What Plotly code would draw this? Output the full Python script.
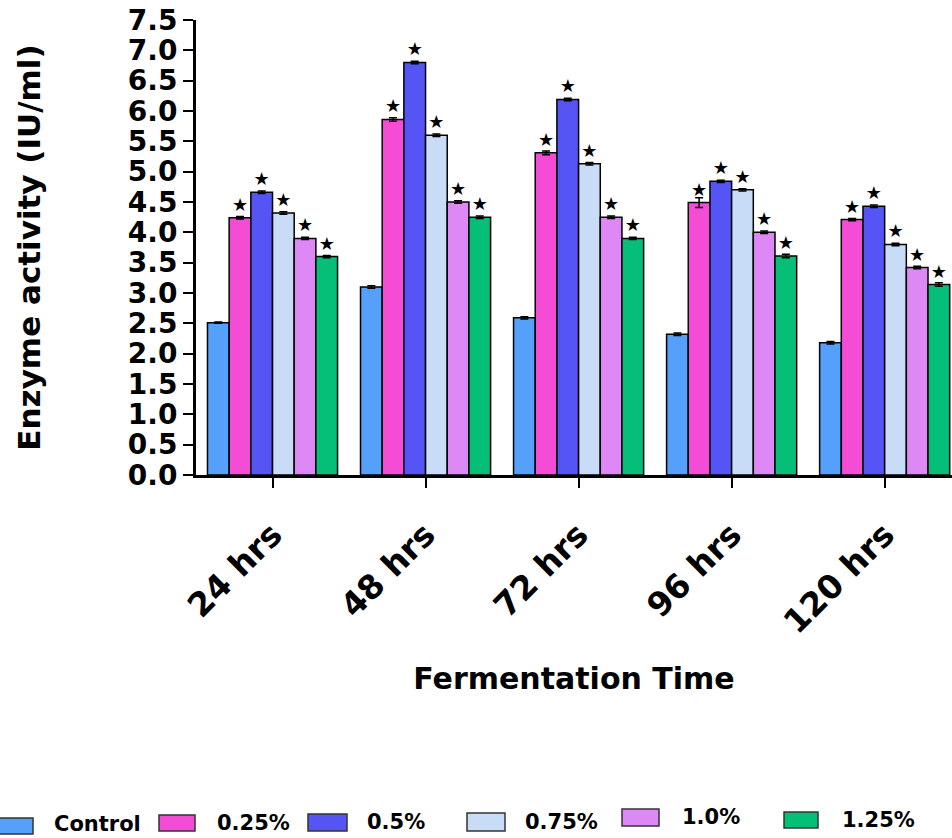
import plotly.graph_objects as go

# ---------------- data ----------------
categories = ["24 hrs", "48 hrs", "72 hrs", "96 hrs", "120 hrs"]
series_names = ["Control", "0.25%", "0.5%", "0.75%", "1.0%", "1.25%"]

control = [2.51, 3.10, 2.59, 2.32, 2.18]
conc_025 = [4.24, 5.86, 5.31, 4.49, 4.21]
conc_05 = [4.66, 6.80, 6.19, 4.84, 4.43]
conc_075 = [4.32, 5.60, 5.13, 4.70, 3.80]
conc_10 = [3.90, 4.50, 4.25, 4.00, 3.42]
conc_125 = [3.60, 4.25, 3.90, 3.61, 3.14]

err_control = [0.01, 0.02, 0.02, 0.02, 0.02]
err_025 = [0.02, 0.03, 0.03, 0.08, 0.02]
err_05 = [0.02, 0.02, 0.02, 0.02, 0.02]
err_075 = [0.02, 0.02, 0.02, 0.02, 0.02]
err_10 = [0.02, 0.02, 0.02, 0.02, 0.02]
err_125 = [0.02, 0.02, 0.02, 0.03, 0.03]

# significance marks ("" = none)
sig_control = ["", "", "", "", ""]
sig_treat = ["★", "★", "★", "★", "★"]

y_tickvals = [0.0, 0.5, 1.0, 1.5, 2.0, 2.5, 3.0, 3.5, 4.0, 4.5, 5.0, 5.5, 6.0, 6.5, 7.0, 7.5]
y_ticktext = ["0.0", "0.5", "1.0", "1.5", "2.0", "2.5", "3.0", "3.5", "4.0", "4.5",
              "5.0", "5.5", "6.0", "6.5", "7.0", "7.5"]

series_values = [control, conc_025, conc_05, conc_075, conc_10, conc_125]
series_errors = [err_control, err_025, err_05, err_075, err_10, err_125]
series_sig = [sig_control, sig_treat, sig_treat, sig_treat, sig_treat, sig_treat]
colors = ["#55A0FA", "#F54CD5", "#5555F5", "#C8DCF8", "#DD88F5", "#05BE78"]

FONT = "DejaVu Sans"

# ---------------- figure ----------------
W, H = 952, 838
ML, MR, MT, MB = 196, 0, 20, 363

fig = go.Figure()
for name, vals, errs, sig, col in zip(series_names, series_values, series_errors, series_sig, colors):
    fig.add_trace(go.Bar(
        name=name,
        x=categories,
        y=vals,
        marker=dict(color=col, line=dict(color="black", width=1.5)),
        error_y=dict(type="data", array=errs, visible=True, color="black",
                     thickness=1.5, width=4),
        text=sig,
        textposition="outside",
        textfont=dict(family=FONT, size=18, color="black"),
        cliponaxis=False,
        showlegend=False,
    ))

# manual legend (boxes + labels) in pixel positions converted to paper coords
pw = W - ML - MR
ph = H - MT - MB


def px_x(p):
    return (p - ML) / pw


def px_y(p):
    return (H - MB - p) / ph


legend_boxes = [(-3, 33, 818, 834), (159, 195, 815, 831), (308, 347, 814, 831),
                (467, 505, 813, 831), (622, 659, 809, 826), (784, 818, 812, 828)]
legend_text_x = [52, 215, 365, 523, 680, 840]
legend_text_y = [824, 823, 822, 822, 817, 820]

shapes = []
annotations = []
for (x0, x1, y0, y1), tx, ty, name, col in zip(legend_boxes, legend_text_x, legend_text_y,
                                               series_names, colors):
    shapes.append(dict(type="rect", xref="paper", yref="paper",
                       x0=px_x(x0), x1=px_x(x1), y0=px_y(y1), y1=px_y(y0),
                       fillcolor=col, line=dict(color="#333333", width=1.5)))
    annotations.append(dict(text=name, xref="paper", yref="paper",
                            x=px_x(tx), y=px_y(ty), xanchor="left", yanchor="middle",
                            showarrow=False,
                            font=dict(family=FONT, size=21, color="black", weight="bold")))

fig.update_layout(
    width=W, height=H,
    margin=dict(l=ML, r=MR, t=MT, b=MB, autoexpand=False),
    paper_bgcolor="white", plot_bgcolor="white",
    barmode="group", bargap=0.15, bargroupgap=0,
    font=dict(family=FONT, color="black"),
    shapes=shapes,
    annotations=annotations,
    xaxis=dict(
        range=[-0.5, 4.44],
        showgrid=False, zeroline=False,
        showline=True, linecolor="black", linewidth=3,
        ticks="outside", ticklen=10, tickwidth=2, tickcolor="black",
        tickangle=-45, ticklabelstandoff=14,
        tickfont=dict(family=FONT, size=33, color="black", weight="bold"),
        title=dict(text="Fermentation Time", standoff=28,
                   font=dict(family=FONT, size=30, color="black", weight="bold")),
        automargin=False,
    ),
    yaxis=dict(
        range=[0, 7.5],
        tickvals=y_tickvals, ticktext=y_ticktext,
        showgrid=False, zeroline=False,
        showline=True, linecolor="black", linewidth=3,
        ticks="outside", ticklen=10, tickwidth=2, tickcolor="black",
        tickfont=dict(family=FONT, size=28, color="black", weight="bold"),
        title=dict(text="Enzyme activity (IU/ml)", standoff=78,
                   font=dict(family=FONT, size=31, color="black", weight="bold")),
        automargin=False,
    ),
)

fig.write_html("out.html", config={"displayModeBar": False},
               post_script="document.body.style.margin='0';document.body.style.overflow='hidden';")
